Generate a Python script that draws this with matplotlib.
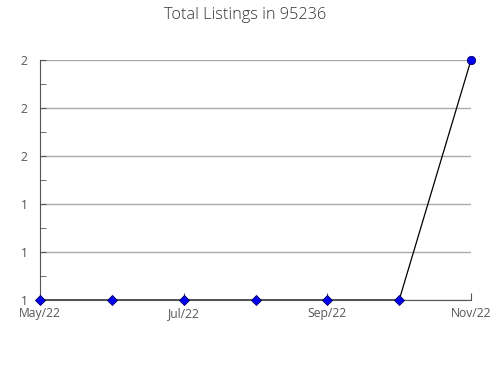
import matplotlib
matplotlib.use("Agg")
import matplotlib.pyplot as plt
from matplotlib.ticker import FixedLocator, MultipleLocator, FuncFormatter

plt.rcParams['font.family'] = ['Open Sans', 'DejaVu Sans']

months = ["May/22", "Jun/22", "Jul/22", "Aug/22", "Sep/22", "Oct/22", "Nov/22"]
listings = [1, 1, 1, 1, 1, 1, 2]
tick_labels = ["May/22", "Jul/22", "Sep/22", "Nov/22"]

fig = plt.figure(figsize=(4.9, 3.8), dpi=100)
ax = fig.add_axes([40/490, 80/380, 431/490, 240/380])

x = list(range(len(months)))
ax.plot(x, listings, color='black', lw=0.9, zorder=3)
ax.scatter(x[:-1], listings[:-1], marker='D', s=26, facecolor='#0000ee',
           edgecolor='#000066', linewidths=0.6, zorder=4, clip_on=False)
ax.scatter(x[-1:], listings[-1:], marker='o', s=36, facecolor='#0000ee',
           edgecolor='#000066', linewidths=0.6, zorder=4, clip_on=False)

ax.set_xlim(0, len(months) - 1)
ax.set_ylim(1, 2)
ax.xaxis.set_major_locator(FixedLocator([months.index(t) for t in tick_labels]))
ax.set_xticklabels(tick_labels)
ax.yaxis.set_major_locator(MultipleLocator(0.2))
ax.yaxis.set_minor_locator(MultipleLocator(0.1))
ax.yaxis.set_major_formatter(FuncFormatter(lambda v, p: f"{v:.0f}"))

ax.grid(axis='y', color='#aaaaaa', lw=1)
for s in ['top', 'right']:
    ax.spines[s].set_visible(False)
for s in ['left', 'bottom']:
    ax.spines[s].set_color('#555555')
ax.tick_params(axis='y', which='both', direction='in', length=4, color='#555555',
               labelcolor='#555555', labelsize=8.7, pad=9)
ax.tick_params(axis='x', direction='in', length=5, color='#555555',
               labelcolor='#555555', labelsize=8.7, pad=5)

fig.suptitle("Total Listings in 95236", x=0.5, y=0.982, fontsize=11.7,
             color='#333333', fontweight='light')
fig.savefig("out.png", dpi=100)
